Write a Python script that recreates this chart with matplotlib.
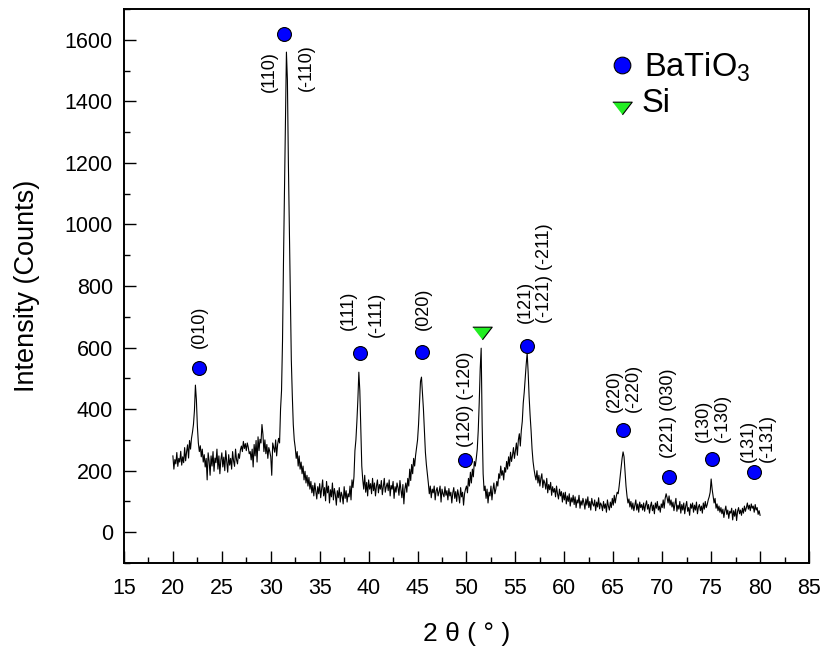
import numpy as np
import matplotlib
matplotlib.use("Agg")
import matplotlib.pyplot as plt
from matplotlib.ticker import MultipleLocator

plt.rcParams['font.family'] = ['Liberation Sans', 'DejaVu Sans']
plt.rcParams['mathtext.fontset'] = 'custom'
plt.rcParams['mathtext.rm'] = 'Liberation Sans'

# XRD scan, 20-80 deg in 0.1 deg steps (one row per degree)
two_theta_start = 20.0
two_theta_step = 0.1
counts = [
    248, 205, 236, 222, 259, 214, 240, 228, 263, 218,       # 20
    245, 226, 275, 232, 262, 284, 241, 298, 270, 305,       # 21
    325, 350, 395, 478, 430, 345, 290, 262, 281, 245,       # 22
    270, 228, 252, 212, 240, 170, 258, 232, 185, 248,       # 23
    215, 262, 198, 241, 226, 270, 205, 248, 190, 235,       # 24
    258, 212, 244, 200, 265, 228, 195, 252, 218, 240,       # 25
    205, 262, 231, 214, 270, 236, 222, 255, 240, 268,       # 26
    280, 262, 295, 272, 288, 265, 290, 276, 255, 262,       # 27
    235, 270, 212, 285, 248, 298, 228, 310, 265, 302,       # 28
    290, 350, 318, 262, 300, 255, 285, 240, 275, 262,       # 29
    245, 185, 290, 275, 260, 300, 248, 285, 305, 290,       # 30
    400, 460, 620, 880, 1110, 1330, 1560, 1470, 1200, 980,  # 31
    760, 560, 445, 350, 300, 275, 240, 262, 215, 248,       # 32
    205, 228, 190, 215, 170, 198, 160, 185, 150, 178,       # 33
    140, 165, 128, 152, 118, 160, 135, 108, 148, 125,       # 34
    158, 112, 140, 170, 118, 145, 102, 165, 128, 150,       # 35
    95, 138, 115, 160, 105, 142, 122, 88, 135, 112,         # 36
    145, 98, 130, 118, 92, 148, 110, 135, 98, 125,          # 37
    115, 150, 105, 170, 145, 180, 265, 300, 360, 430,       # 38
    520, 460, 340, 215, 170, 140, 185, 130, 162, 118,       # 39
    170, 140, 158, 125, 175, 135, 160, 118, 150, 170,       # 40
    128, 155, 140, 168, 122, 150, 175, 130, 148, 160,       # 41
    135, 170, 118, 152, 140, 165, 110, 148, 130, 160,       # 42
    145, 120, 168, 138, 112, 155, 92, 140, 160, 130,        # 43
    175, 150, 205, 168, 220, 190, 240, 215, 250, 275,       # 44
    300, 350, 420, 490, 504, 450, 400, 330, 260, 220,       # 45
    190, 160, 125, 150, 112, 140, 128, 150, 105, 135,       # 46
    145, 118, 132, 150, 98, 140, 125, 115, 148, 120,        # 47
    135, 105, 142, 118, 130, 95, 128, 145, 110, 132,        # 48
    100, 138, 120, 95, 145, 115, 130, 88, 125, 140,         # 49
    150, 128, 175, 150, 195, 160, 205, 180, 230, 215,       # 50
    240, 270, 330, 420, 530, 598, 350, 190, 135, 150,       # 51
    110, 140, 95, 130, 118, 150, 105, 138, 160, 125,        # 52
    140, 165, 150, 190, 175, 215, 185, 200, 170, 210,       # 53
    195, 230, 205, 245, 215, 260, 230, 250, 275, 240,       # 54
    265, 290, 250, 300, 320, 280, 330, 360, 420, 455,       # 55
    500, 545, 582, 520, 440, 380, 330, 270, 230, 205,       # 56
    185, 170, 200, 160, 185, 150, 175, 190, 145, 170,       # 57
    160, 140, 175, 128, 155, 138, 162, 120, 148, 130,       # 58
    142, 115, 150, 125, 108, 140, 118, 132, 98, 128,        # 59
    105, 130, 92, 118, 100, 125, 85, 112, 98, 120,          # 60
    90, 115, 80, 105, 95, 120, 78, 102, 88, 110,            # 61
    95, 75, 108, 88, 115, 80, 100, 72, 110, 92,             # 62
    85, 105, 70, 98, 82, 112, 76, 95, 88, 70,               # 63
    100, 78, 92, 65, 105, 85, 72, 98, 80, 110,              # 64
    88, 120, 95, 115, 130, 125, 150, 180, 210, 240,         # 65
    261, 245, 200, 150, 118, 95, 108, 82, 100, 75,          # 66
    95, 70, 88, 105, 72, 92, 65, 98, 80, 90,                # 67
    72, 95, 68, 88, 102, 75, 90, 62, 85, 98,                # 68
    70, 88, 60, 95, 78, 100, 72, 85, 65, 92,                # 69
    80, 105, 78, 110, 125, 112, 95, 118, 88, 105,           # 70
    82, 98, 70, 92, 110, 68, 88, 75, 100, 62,               # 71
    90, 72, 95, 60, 85, 100, 68, 80, 55, 92,                # 72
    78, 95, 65, 88, 72, 98, 60, 82, 90, 70,                 # 73
    85, 62, 95, 75, 100, 80, 90, 105, 115, 130,             # 74
    173, 140, 118, 95, 110, 78, 92, 70, 85, 65,             # 75
    80, 60, 75, 48, 70, 85, 58, 72, 45, 68,                 # 76
    62, 78, 40, 70, 52, 75, 38, 68, 80, 60,                 # 77
    72, 55, 78, 62, 85, 68, 80, 95, 75, 88,                 # 78
    70, 92, 78, 85, 65, 90, 72, 80, 58, 70,                 # 79
    55,                                                     # 80
]

# phase markers
batio3_x = [22.63, 31.35, 39.15, 45.45, 49.85, 56.15, 66.02, 70.69, 75.05, 79.4]
batio3_y = [535, 1620, 581, 586, 235, 605, 332, 181, 237, 197]
si_x = [51.55]
si_y = [647]

# Miller index labels: (text, x, bottom y)
hkl_labels = [
    ("(010)", 22.69, 597),
    ("(110)", 29.82, 1430),
    ("(-110)", 33.67, 1433),
    ("(111)", 37.92, 657),
    ("(-111)", 40.82, 635),
    ("(020)", 45.58, 657),
    ("(120) (-120)", 49.85, 278),
    ("(121)\n(-121) (-211)", 56.97, 679),
    ("(220)\n(-220)", 66.12, 392),
    ("(221) (030)", 70.69, 240),
    ("(130)\n(-130)", 75.22, 294),
    ("(131)\n(-131)", 79.82, 229),
]

two_theta = two_theta_start + two_theta_step * np.arange(len(counts))

tri = [(-1, 0.65), (1, 0.65), (0, -0.65)]

fig = plt.figure(figsize=(8.21, 6.49), dpi=100)
ax = fig.add_axes([0.151, 0.1325, 0.8344, 0.8536])

ax.plot(two_theta, counts, color='black', lw=0.8)
ax.plot(batio3_x, batio3_y, 'o', ms=10, mfc='#0000ff', mec='black', mew=0.8, ls='none')
ax.plot(si_x, si_y, marker=tri, ms=14, mfc='#22ee22', mec='black', mew=0.8, ls='none')

for txt, x, y in hkl_labels:
    ax.text(x, y, txt, rotation=90, ha='center', va='bottom',
            fontsize=13, multialignment='left', linespacing=1.15)

# legend
ax.plot([65.86], [1517], 'o', ms=12, mfc='#0000ff', mec='black', mew=0.8)
ax.text(68.1, 1512, "BaTiO$_3$", fontsize=23.5, va='center', ha='left')
ax.plot([65.89], [1378], marker=tri, ms=14, mfc='#22ee22', mec='black', mew=0.8)
ax.text(67.9, 1393, "Si", fontsize=23.5, va='center', ha='left')

ax.set_xlim(15, 85)
ax.set_ylim(-100, 1700)
ax.xaxis.set_major_locator(MultipleLocator(5))
ax.xaxis.set_minor_locator(MultipleLocator(2.5))
ax.yaxis.set_major_locator(MultipleLocator(200))
ax.yaxis.set_minor_locator(MultipleLocator(100))
ax.set_yticks(np.arange(0, 1601, 200))
ax.tick_params(which='both', direction='in', top=False, right=False, width=1.0)
ax.tick_params(which='major', length=8.5, labelsize=15.5, pad=8)
ax.tick_params(axis='x', which='major', pad=11)
ax.tick_params(which='minor', length=4.5)
for s in ax.spines.values():
    s.set_linewidth(1.4)

ax.set_xlabel("2 θ ( ° )", fontsize=19, labelpad=16)
ax.set_ylabel("Intensity (Counts)", fontsize=19.5, labelpad=18)

fig.savefig("out.png", dpi=100)
